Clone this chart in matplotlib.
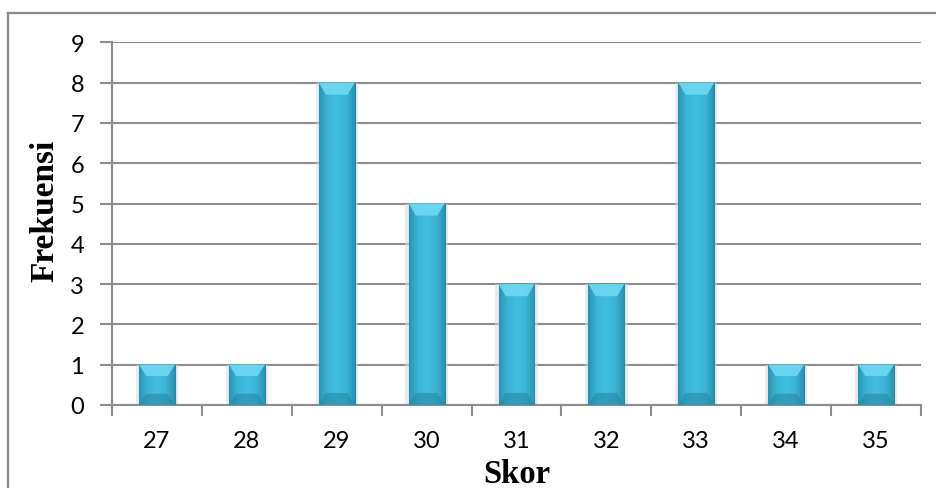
import matplotlib
matplotlib.use("Agg")
import matplotlib.pyplot as plt
import numpy as np
from matplotlib.lines import Line2D
from matplotlib.patches import Polygon
from matplotlib.colors import LinearSegmentedColormap

categories = ["27", "28", "29", "30", "31", "32", "33", "34", "35"]
frequencies = [1, 1, 8, 5, 3, 3, 8, 1, 1]
y_ticks = list(range(0, 10))

W, H = 936, 489
fig = plt.figure(figsize=(W / 100, H / 100), dpi=100)
fig.patch.set_facecolor("white")

# outer chart frame (left and top edges visible)
frame_col = "#8a8a8a"
fig.add_artist(Line2D([8 / W, 8 / W], [0, 1 - 14 / H], transform=fig.transFigure,
                      color=frame_col, lw=1.6))
fig.add_artist(Line2D([8 / W, 1], [1 - 14 / H, 1 - 14 / H], transform=fig.transFigure,
                      color=frame_col, lw=1.6))

left, right = 112 / W, 921 / W
bottom, top = 1 - 406 / H, 1 - 43.3 / H
ax = fig.add_axes([left, bottom, right - left, top - bottom])

x = np.arange(len(categories))
ax.set_xlim(-0.5, len(categories) - 0.5)
ax.set_ylim(0, 9)

grid_col = "#8c8c8c"
ax.set_yticks(y_ticks)
ax.yaxis.grid(True, color=grid_col, lw=1.5)
ax.set_axisbelow(True)

bar_w = 0.4
# soft shadow behind bars
ax.bar(x, frequencies, width=bar_w + 0.07, color="#d9d9d9", alpha=0.55,
       zorder=2, linewidth=0)
bars = ax.bar(x, frequencies, width=bar_w, color="#3db8da", edgecolor="#2389a6",
              linewidth=0.8, zorder=3)

# horizontal shading across each bar for a bevelled look
cmap = LinearSegmentedColormap.from_list(
    "bev", ["#2a92b0", "#3bb6d8", "#41bde0", "#3bb6d8", "#2a92b0"])
grad = np.linspace(0, 1, 256).reshape(1, -1)
for b in bars:
    x0, w, h = b.get_x(), b.get_width(), b.get_height()
    im = ax.imshow(grad, extent=(x0, x0 + w, 0, h), aspect="auto", cmap=cmap,
                   zorder=3.5, origin="lower")
    im.set_clip_path(b)
    # bright bevelled cap at the top of the bar
    cap_h = min(0.3, h * 0.28)
    ins = w * 0.2
    ax.add_patch(Polygon([[x0, h], [x0 + w, h], [x0 + w - ins, h - cap_h],
                          [x0 + ins, h - cap_h]], closed=True,
                         facecolor="#6ed9f2", edgecolor="none", alpha=0.9, zorder=3.6))
    # darker bevel at the foot of the bar
    foot_h = min(0.3, h * 0.28)
    ax.add_patch(Polygon([[x0, 0], [x0 + w, 0], [x0 + w - ins, foot_h],
                          [x0 + ins, foot_h]], closed=True,
                         facecolor="#2584a0", edgecolor="none", alpha=0.55, zorder=3.6))

ax.set_xticks(x)
ax.set_xticklabels(categories)
ax.set_xticks(np.arange(-0.5, len(categories)), minor=True)
ax.tick_params(axis="x", which="major", length=0, pad=18,
               labelsize=17, labelfontfamily="Lato")
ax.tick_params(axis="x", which="minor", length=8, width=1.5, color=grid_col, direction="out")
ax.tick_params(axis="y", length=9, width=1.5, color=grid_col, pad=11,
               labelsize=17, labelfontfamily="Lato")

for s in ["top", "right"]:
    ax.spines[s].set_visible(False)
for s in ["left", "bottom"]:
    ax.spines[s].set_color(grid_col)
    ax.spines[s].set_linewidth(1.5)

ax_h = 406 - 43.3
ax_w = 921 - 112
ax.set_xlabel("Skor", family="Liberation Serif", fontweight="bold", fontsize=23.5,
              va="baseline")
ax.xaxis.set_label_coords(0.5, (406 - 483) / ax_h)
ax.set_ylabel("Frekuensi", family="Liberation Serif", fontweight="bold", fontsize=24,
              va="center")
ax.yaxis.set_label_coords((45 - 112) / ax_w, (406 - 211) / ax_h)

fig.savefig("out.png", dpi=100)
